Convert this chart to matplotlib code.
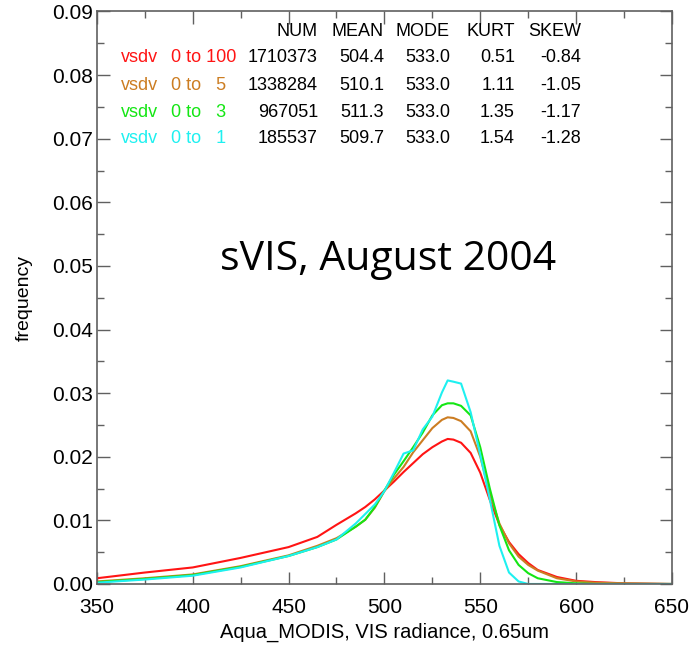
import matplotlib

matplotlib.use("Agg")
import matplotlib.pyplot as plt
from matplotlib.ticker import FormatStrFormatter, MultipleLocator

# radiance grid (bin centres)
radiance = [350, 375, 400, 425, 450, 465, 475, 485, 490, 495, 500, 505, 510,
            515, 520, 525, 530, 533, 536, 540, 545, 550, 555, 560, 565, 570,
            575, 580, 590, 600, 610, 625, 650]

freq_100 = [0.0009, 0.0018, 0.0026, 0.0041, 0.0058, 0.0074, 0.0093, 0.0111,
            0.0121, 0.0133, 0.0147, 0.0161, 0.0176, 0.0190, 0.0204, 0.0215,
            0.0224, 0.0228, 0.0227, 0.0222, 0.0206, 0.0175, 0.0132, 0.0093,
            0.0066, 0.0047, 0.0033, 0.0022, 0.0011, 0.0005, 0.0003, 0.0001, 0.0]
freq_5 = [0.0004, 0.0009, 0.0015, 0.0028, 0.0045, 0.0060, 0.0072, 0.0090,
          0.0101, 0.0120, 0.0146, 0.0166, 0.0184, 0.0207, 0.0226, 0.0245,
          0.0258, 0.0262, 0.0261, 0.0256, 0.0240, 0.0200, 0.0142, 0.0095,
          0.0064, 0.0043, 0.0030, 0.0021, 0.0009, 0.0004, 0.0002, 0.0001, 0.0]
freq_3 = [0.0003, 0.0008, 0.0014, 0.0027, 0.0044, 0.0058, 0.0070, 0.0090,
          0.0101, 0.0121, 0.0147, 0.0172, 0.0193, 0.0215, 0.0238, 0.0265,
          0.0281, 0.0284, 0.0284, 0.0280, 0.0265, 0.0215, 0.0150, 0.0092,
          0.0053, 0.0030, 0.0017, 0.0009, 0.0003, 0.0001, 0.0, 0.0, 0.0]
freq_1 = [0.0002, 0.0007, 0.0013, 0.0026, 0.0044, 0.0058, 0.0070, 0.0095,
          0.0110, 0.0125, 0.0146, 0.0175, 0.0205, 0.0210, 0.0243, 0.0263,
          0.0301, 0.0320, 0.0318, 0.0315, 0.0270, 0.0203, 0.0133, 0.0060,
          0.0018, 0.0004, 0.0, 0.0, 0.0, 0.0, 0.0, 0.0, 0.0]

labels = ["0 to 100", "0 to   5", "0 to   3", "0 to   1"]
num = ["1710373", "1338284", "967051", "185537"]
mean = ["504.4", "510.1", "511.3", "509.7"]
mode = ["533.0", "533.0", "533.0", "533.0"]
kurt = ["0.51", "1.11", "1.35", "1.54"]
skew = ["-0.84", "-1.05", "-1.17", "-1.28"]
headers = ["NUM", "MEAN", "MODE", "KURT", "SKEW"]

RED, ORANGE, GREEN, CYAN = "#ff1414", "#cc7d22", "#14e614", "#1ef0f0"
AXIS = "#606060"
SANS = ["Liberation Sans", "DejaVu Sans"]

fig = plt.figure(figsize=(6.92, 6.45), dpi=100)
ax = fig.add_axes([0.140, 0.0946, 0.831, 0.8876])

series = [freq_100, freq_5, freq_3, freq_1]
colors = [RED, ORANGE, GREEN, CYAN]
for f, c in zip(series, colors):
    ax.plot(radiance, f, color=c, linewidth=1.5)

ax.set_xlim(350, 650)
ax.set_ylim(0, 0.09)
ax.xaxis.set_major_locator(MultipleLocator(50))
ax.xaxis.set_minor_locator(MultipleLocator(25))
ax.yaxis.set_major_locator(MultipleLocator(0.01))
ax.yaxis.set_minor_locator(MultipleLocator(0.005))
ax.yaxis.set_major_formatter(FormatStrFormatter("%.2f"))
ax.tick_params(which="both", direction="in", top=True, right=True,
               color=AXIS, width=1.0, labelsize=15)
ax.tick_params(axis="x", which="major", pad=10)
ax.tick_params(axis="y", which="major", pad=3)
ax.tick_params(which="major", length=9)
ax.tick_params(which="minor", length=5)
for lab in ax.get_xticklabels() + ax.get_yticklabels():
    lab.set_family(SANS)
for s in ax.spines.values():
    s.set_color(AXIS)
    s.set_linewidth(1.2)

ax.set_xlabel("Aqua_MODIS, VIS radiance, 0.65um", fontsize=14.5, family=SANS,
              labelpad=4)
ax.set_ylabel("frequency", fontsize=14, family=SANS, labelpad=14)

# statistics table (IDL-style annotation)
col_x = [465.3, 499.7, 534.2, 568.1, 602.5]
row_y = [0.0827, 0.0783, 0.0741, 0.0700]
for x, h in zip(col_x, headers):
    ax.text(x, 0.0868, h, ha="right", va="center", fontsize=13, family=SANS)
for i, c in enumerate(colors):
    y = row_y[i]
    ax.text(362.3, y, "vsdv", color=c, ha="left", va="center", fontsize=13,
            family=SANS)
    ax.text(388.5, y, labels[i], color=c, ha="left", va="center", fontsize=13,
            family=SANS)
    for x, v in zip(col_x, [num[i], mean[i], mode[i], kurt[i], skew[i]]):
        ax.text(x, y, v, ha="right", va="center", fontsize=13, family=SANS)

ax.text(414.2, 0.0494, "sVIS, August 2004", ha="left", va="baseline",
        fontsize=29.5, family=["Open Sans", "DejaVu Sans"])

fig.savefig("out.png", dpi=100)
